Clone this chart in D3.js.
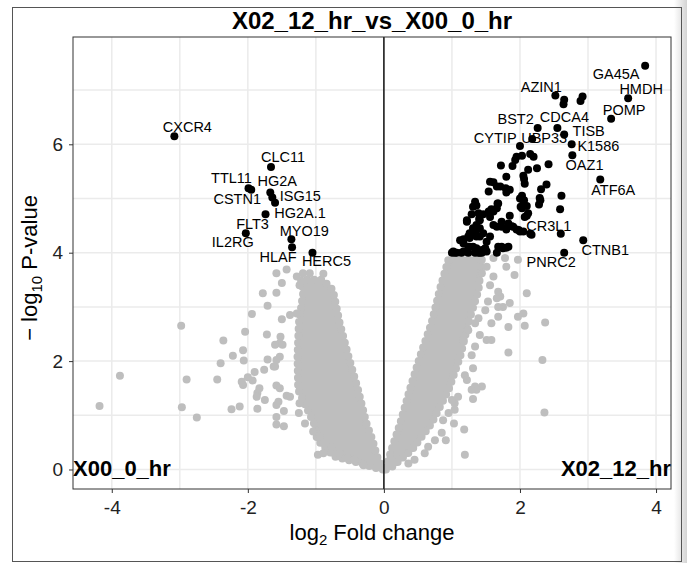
<!DOCTYPE html>
<html>
<head>
<meta charset="utf-8">
<script src="https://cdn.jsdelivr.net/npm/d3@7"></script>
<style>
body { margin: 0; background: #fff; }
text { font-family: "Liberation Sans", Arial, sans-serif; }
</style>
</head>
<body>
<script>
// significant genes (black points); "" = unlabelled
var sigGene = ["GA45A","HMDH","POMP","AZIN1","BST2","CDCA4","UBP33","CYTIP","TISB","K1586","OAZ1","ATF6A","CR3L1","CTNB1","PNRC2",
  "CXCR4","CLC11","TTL11","CSTN1","HG2A","ISG15","HG2A.1","FLT3","IL2RG","MYO19","HLAF","HERC5"];
var sigLogFC = [3.84,3.59,3.34,2.52,2.26,2.55,2.65,2.18,2.76,2.77,2.42,3.18,2.60,2.93,2.65,
  -3.08,-1.66,-1.99,-1.95,-1.67,-1.64,-1.60,-1.74,-2.03,-1.36,-1.35,-1.05,
  2.65,2.64,2.92,2.89,2.00,1.95,2.03,1.93,2.15,2.20,1.72,1.89,2.25,2.12,1.80,2.05,2.07,2.06,1.61,1.66,1.54,1.79,1.85,1.80,2.39,2.31,1.56,1.71,
  2.03,2.06,2.01,2.10,2.29,2.28,2.30,2.61,2.59,1.34,1.36,1.67,1.66,1.54,1.58,1.31,1.39,1.56,2.10,2.07,1.85,1.29,1.46,1.40,1.22,1.73,1.66,1.61,
  1.83,1.90,1.98,2.05,2.15,1.36,1.31,1.41,1.46,1.35,1.26,1.17,1.26,1.41,1.51,1.56,1.00,1.07,1.22,1.26,1.36,1.41,1.73,1.80,1.66,1.22,1.41,1.36,
  1.24,2.00,2.17,1.12,1.17,1.24,1.31,1.49,1.02,1.17,1.39,1.44,1.51,1.68,1.75,1.83,1.95,1.88,1.73,1.80,1.68,1.61,2.12,2.03,2.05,2.00,1.04,1.14,1.24,1.34,1.44];
var sigLogP = [7.45,6.85,6.47,6.90,6.30,6.30,6.18,6.10,6.00,5.80,5.63,5.35,4.35,4.23,4.00,
  6.15,5.58,5.19,5.16,5.11,5.02,4.92,4.71,4.36,4.25,4.10,4.00,
  6.82,6.74,6.88,6.80,5.97,5.77,5.79,5.71,5.82,5.77,5.61,5.60,5.56,5.53,5.40,5.42,5.27,5.36,5.30,5.22,5.13,5.19,5.16,5.11,5.26,5.17,5.31,5.22,
  5.05,4.97,4.85,4.86,5.01,4.89,4.97,5.05,4.80,4.94,4.87,4.91,4.82,4.76,4.80,4.85,4.73,4.66,4.68,4.66,4.68,4.71,4.71,4.62,4.57,4.57,4.48,4.51,
  4.54,4.48,4.42,4.39,4.35,4.51,4.45,4.45,4.36,4.36,4.36,4.25,4.27,4.30,4.20,4.30,4.00,4.00,4.02,4.11,4.08,4.00,4.11,4.09,4.00,4.60,4.60,4.30,
  4.30,4.39,4.33,4.23,4.17,4.11,4.11,4.08,4.02,4.02,4.00,4.05,4.02,4.11,4.08,4.11,4.43,4.49,4.48,4.43,4.91,4.76,4.73,4.82,4.91,5.00,4.00,4.00,4.00,4.00,4.00];

// non-significant genes scattered around the dense core (grey points)
var nsLogFC = [-1.78,-1.58,-1.71,-1.94,-2.04,-2.36,-1.72,-2.07,-2.22,-2.06,-2.40,-2.98,-2.90,-2.45,-2.09,-2.07,-2.00,-1.93,-1.90,-1.76,-1.71,-1.60,
  -1.83,-1.86,-1.87,-1.75,-2.97,-2.75,-2.24,-2.12,-1.86,-1.58,-1.55,-1.47,-1.58,-1.58,-1.47,-1.58,-1.53,-1.43,-1.38,-1.53,-1.49,-1.52,-1.60,
  -1.53,-1.58,-1.62,-1.50,-1.38,-1.28,-1.24,-1.25,-1.16,-1.04,-0.94,-0.97,-0.89,-0.77,-0.65,-0.53,-0.43,-0.30,-4.18,-3.88,
  -1.58,-1.43,-1.28,-1.19,-1.09,-0.89,-1.50,-1.24,
  1.61,1.78,1.97,1.80,1.92,2.10,1.85,1.97,2.05,1.71,1.75,2.37,2.07,1.83,1.68,1.58,1.51,1.58,1.83,2.33,1.31,1.19,1.22,1.34,1.44,1.36,1.29,1.31,
  1.09,1.04,1.00,2.36,1.03,1.18,0.91,0.85,1.19,1.41,1.34,1.29,1.24,1.17,1.34,1.39,1.49,1.53,1.66,1.68,1.56,1.68,1.61,1.44,1.51,0.60,0.45,0.36,
  0.75,0.65,1.04,0.95,0.87];
var nsLogP = [3.25,3.26,3.02,2.87,2.54,2.38,2.49,2.20,2.10,2.01,1.96,2.65,1.66,1.66,1.62,1.56,1.70,1.64,1.80,1.84,2.03,1.90,
  1.50,1.41,1.34,1.28,1.15,0.96,1.11,1.16,1.12,1.19,1.25,1.08,0.97,0.83,0.80,1.55,1.50,1.36,1.34,2.33,2.30,2.45,2.30,
  2.08,2.02,1.90,2.77,2.85,2.88,1.22,1.04,0.85,0.70,0.61,0.27,0.30,0.42,0.30,0.21,0.18,0.08,1.17,1.73,
  3.62,3.69,3.56,3.62,3.62,3.61,3.44,3.40,
  3.90,3.90,3.87,3.74,3.59,3.25,3.07,2.82,2.88,3.19,3.00,2.71,2.65,2.63,2.82,2.70,2.39,2.39,2.16,2.02,1.87,1.74,1.65,1.53,1.53,1.47,1.47,1.30,
  1.34,1.22,1.28,1.05,0.85,0.74,0.54,0.68,0.27,2.48,2.27,2.11,2.57,2.39,2.70,2.79,2.94,3.10,3.16,3.00,3.40,3.28,3.56,3.62,3.74,0.30,0.18,0.11,
  0.54,0.42,1.10,1.04,0.91];

// outline (centres of the outermost points) of the dense, fully overlapping grey core of each arm
var leftCoreP  = [0.00, 0.10, 0.24, 0.55, 0.86, 1.47, 2.08, 2.70, 3.31, 3.50];
var leftCoreLo = [-0.05, -0.30, -0.73, -0.98, -1.03, -1.26, -1.27, -1.25, -1.18, -1.22];
var leftCoreHi = [0.00, -0.05, -0.10, -0.17, -0.26, -0.38, -0.52, -0.65, -0.75, -0.90];
var rightCoreP  = [0.00, 0.05, 0.36, 0.85, 1.47, 2.08, 2.70, 3.31, 3.88];
var rightCoreLo = [0.00, 0.04, 0.11, 0.24, 0.38, 0.53, 0.70, 0.82, 0.95];
var rightCoreHi = [0.03, 0.12, 0.41, 0.70, 0.95, 1.12, 1.24, 1.39, 1.44];

var xTicks = [-4, -2, 0, 2, 4];
var yTicks = [0, 2, 4, 6];

// label placement relative to the point, in px (like ggrepel output)
var labelNudge = {
  "GA45A": [-29, 13], "HMDH": [13, -4], "POMP": [13, -4], "AZIN1": [-14, -4], "BST2": [-22, -4],
  "CDCA4": [7, -6], "UBP33": [-20, 8], "CYTIP": [-37, 4], "TISB": [17, -8], "K1586": [26, -4],
  "OAZ1": [36, 6], "ATF6A": [13, 15], "CR3L1": [-12, -3], "CTNB1": [22, 15], "PNRC2": [-13, 14],
  "CXCR4": [13, -4], "CLC11": [12, -5], "TTL11": [-17, -5], "CSTN1": [-14, 14], "HG2A": [7, -7],
  "ISG15": [28, 4], "HG2A.1": [25, 15], "FLT3": [-13, 15], "IL2RG": [-13, 14], "MYO19": [13, -3],
  "HLAF": [-14, 15], "HERC5": [14, 13]
};

var margin = {top: 37, right: 16, bottom: 74, left: 73},
    width = 687 - margin.left - margin.right,
    height = 563 - margin.top - margin.bottom;

var x = d3.scaleLinear().domain([-4.57, 4.22]).range([0, width]);
var y = d3.scaleLinear().domain([-0.36, 7.98]).range([height, 0]);

var root = d3.select("body").append("svg")
    .attr("width", 687)
    .attr("height", 563);

// screenshot frame and shadow
var defs = root.append("defs");
var grad = defs.append("linearGradient").attr("id", "shade");
grad.append("stop").attr("offset", "0%").attr("stop-color", "#ffffff");
grad.append("stop").attr("offset", "100%").attr("stop-color", "#d4d4d4");
root.append("rect").attr("x", 674).attr("y", 0).attr("width", 13).attr("height", 563).attr("fill", "url(#shade)");
root.append("rect").attr("x", 12.5).attr("y", 7.5).attr("width", 669).attr("height", 554)
    .attr("fill", "none").attr("stroke", "#555").attr("stroke-width", 1);

var svg = root.append("g")
    .attr("transform", "translate(" + margin.left + "," + margin.top + ")");

svg.append("rect").attr("width", width).attr("height", height).attr("fill", "#fff");

// grid lines (major + minor, theme_bw)
var gx = [-4, -3, -2, -1, 0, 1, 2, 3, 4];
var gy = [0, 1, 2, 3, 4, 5, 6, 7];
svg.selectAll(".gx").data(gx).enter().append("line")
    .attr("x1", d => x(d)).attr("x2", d => x(d))
    .attr("y1", 0).attr("y2", height)
    .attr("stroke", "#ebebeb").attr("stroke-width", 1.5);
svg.selectAll(".gy").data(gy).enter().append("line")
    .attr("y1", d => y(d)).attr("y2", d => y(d))
    .attr("x1", 0).attr("x2", width)
    .attr("stroke", "#ebebeb").attr("stroke-width", 1.5);

// dense grey core: filled outline, edged with a row of round dots
function coreRows(p, lo, hi) {
    return p.map((v, i) => ({p: v, lo: lo[i], hi: hi[i]}));
}
var coreArea = d3.area()
    .y(d => y(d.p))
    .x0(d => x(d.lo))
    .x1(d => x(d.hi));
[coreRows(leftCoreP, leftCoreLo, leftCoreHi), coreRows(rightCoreP, rightCoreLo, rightCoreHi)].forEach(function(rows) {
    svg.append("path")
        .datum(rows)
        .attr("d", coreArea)
        .attr("fill", "#bebebe")
        .attr("stroke", "#bebebe")
        .attr("stroke-width", 8)
        .attr("stroke-dasharray", "0 7")
        .attr("stroke-linecap", "round");
});

// grey points
svg.selectAll(".ns").data(nsLogFC).enter().append("circle")
    .attr("cx", d => x(d))
    .attr("cy", (d, i) => y(nsLogP[i]))
    .attr("r", 4)
    .attr("fill", "#bebebe");

// black points
svg.selectAll(".sig").data(sigLogFC).enter().append("circle")
    .attr("cx", d => x(d))
    .attr("cy", (d, i) => y(sigLogP[i]))
    .attr("r", 4)
    .attr("fill", "#000");

// vertical line at 0
svg.append("line")
    .attr("x1", x(0)).attr("x2", x(0))
    .attr("y1", 0).attr("y2", height)
    .attr("stroke", "#000").attr("stroke-width", 1.4);

// gene labels
sigGene.forEach(function(g, i) {
    var n = labelNudge[g] || [0, 0];
    svg.append("text")
        .attr("x", x(sigLogFC[i]) + n[0])
        .attr("y", y(sigLogP[i]) + n[1])
        .attr("text-anchor", "middle")
        .style("font-size", "14.5px")
        .attr("fill", "#000")
        .text(g);
});

// corner labels
svg.append("text")
    .attr("x", 0).attr("y", 438.7)
    .style("font-size", "22px").style("font-weight", "bold")
    .text("X00_0_hr");
svg.append("text")
    .attr("x", width).attr("y", 438.7)
    .attr("text-anchor", "end")
    .style("font-size", "22px").style("font-weight", "bold")
    .text("X02_12_hr");

// panel border
svg.append("rect").attr("width", width).attr("height", height)
    .attr("fill", "none").attr("stroke", "#333").attr("stroke-width", 1);

// axes
var xAxis = svg.append("g")
    .attr("transform", "translate(0," + height + ")")
    .call(d3.axisBottom(x).tickValues(xTicks).tickSize(4).tickPadding(8).tickFormat(d => String(d)));
var yAxis = svg.append("g")
    .call(d3.axisLeft(y).tickValues(yTicks).tickSize(4).tickPadding(6).tickFormat(d => String(d)));
[xAxis, yAxis].forEach(function(a) {
    a.select(".domain").remove();
    a.selectAll("line").attr("stroke", "#333");
    a.selectAll("text").attr("fill", "#222")
        .style("font-size", "19px")
        .style("font-family", "'Liberation Sans', Arial, sans-serif");
});

// titles
root.append("text")
    .attr("x", margin.left + width / 2).attr("y", 29)
    .attr("text-anchor", "middle")
    .style("font-size", "24px").style("font-weight", "bold")
    .text("X02_12_hr_vs_X00_0_hr");

var xt = root.append("text")
    .attr("x", margin.left + width / 2).attr("y", 540)
    .attr("text-anchor", "middle")
    .style("font-size", "22px");
xt.append("tspan").text("log");
xt.append("tspan").attr("dy", 5).style("font-size", "15px").text("2");
xt.append("tspan").attr("dy", -5).text(" Fold change");

var yt = root.append("text")
    .attr("transform", "translate(37,268) rotate(-90)")
    .attr("text-anchor", "middle")
    .style("font-size", "22px");
yt.append("tspan").text("\u2212 log");
yt.append("tspan").attr("dy", 5).style("font-size", "15px").text("10");
yt.append("tspan").attr("dy", -5).text(" P-value");
</script>
</body>
</html>
